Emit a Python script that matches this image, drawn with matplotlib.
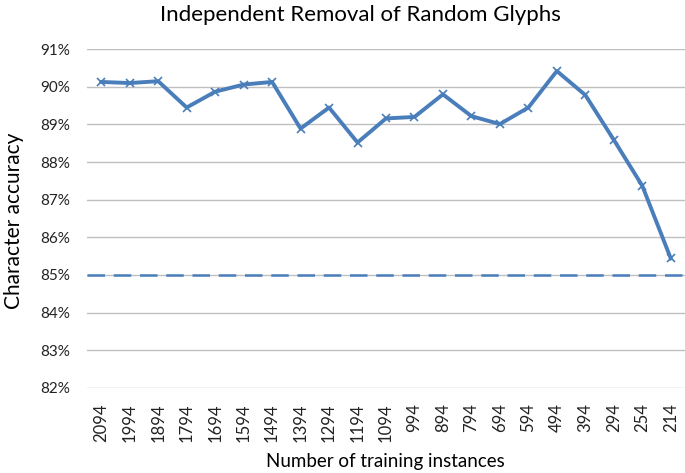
import numpy as np
import matplotlib
matplotlib.use("Agg")
import matplotlib.pyplot as plt

# training set sizes (categories) and character accuracy in percent
instances = ["2094", "1994", "1894", "1794", "1694", "1594", "1494", "1394", "1294", "1194",
             "1094", "994", "894", "794", "694", "594", "494", "394", "294", "254", "214"]
accuracy = [90.13, 90.10, 90.15, 89.45, 89.87, 90.06, 90.13, 88.89, 89.45, 88.52,
            89.16, 89.20, 89.80, 89.22, 89.01, 89.45, 90.42, 89.78, 88.59, 87.37, 85.44]
baseline = 85.0
yticks = [82, 83, 84, 85, 86, 87, 88, 89, 90, 91]

plt.rcParams['font.family'] = ['Lato', 'DejaVu Sans']
blue = '#4A7EBB'

fig = plt.figure(figsize=(6.85, 4.73), dpi=100)
ax = fig.add_axes([0.127, 0.18, 0.873, 0.716])

x = np.arange(len(instances))
ax.plot(x, accuracy, color=blue, lw=2.8, marker='x', ms=6, mew=1.2, zorder=3)
ax.axhline(baseline, color=blue, lw=1.8, ls=(0, (7, 3.5)), zorder=3)

ax.set_xlim(-0.5, len(instances) - 0.5)
ax.set_ylim(82, 91)
ax.set_yticks(yticks)
ax.set_yticklabels([f"{v}%" for v in yticks], fontsize=11, color='#222222')
ax.set_xticks(x)
ax.set_xticklabels(instances, rotation=90, fontsize=12, color='#222222')
ax.tick_params(axis='y', length=0, pad=12)
ax.tick_params(axis='x', length=0, pad=11)
ax.yaxis.grid(True, color='#C0C0C0', lw=1)
ax.set_axisbelow(True)
for s in ax.spines.values():
    s.set_visible(False)

# titles placed in figure coordinates, like the Excel chart
fig.text(0.526, 0.956, "Independent Removal of Random Glyphs", fontsize=16,
         ha='center', va='baseline')
fig.text(0.021, 0.533, "Character accuracy", fontsize=15, rotation=90,
         ha='center', va='center')
fig.text(0.562, 0.013, "Number of training instances", fontsize=13.5,
         ha='center', va='baseline')

fig.savefig("out.png", dpi=100)
